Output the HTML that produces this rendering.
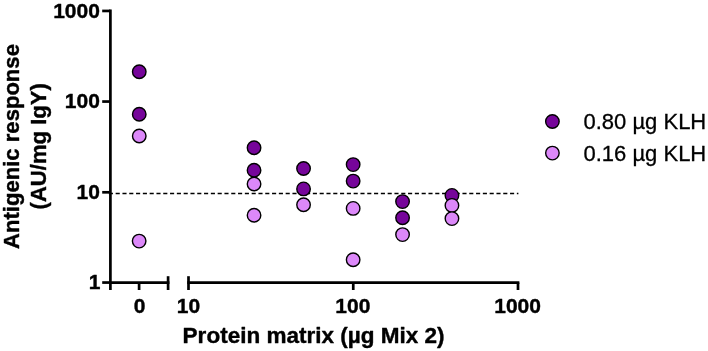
<!DOCTYPE html>
<html><head><meta charset="utf-8"><title>Chart</title>
<style>html,body{margin:0;padding:0;background:#fff}svg{display:block}</style></head>
<body>
<svg width="708" height="351" viewBox="0 0 708 351">
<rect width="708" height="351" fill="#fff"/>
<line x1="108.85" y1="193.5" x2="518.4" y2="193.5" stroke="#000" stroke-width="1.35" stroke-dasharray="4.1 2.7"/>
<g stroke="#000" stroke-width="2.7" fill="none">
<line x1="110.4" y1="9.6" x2="110.4" y2="290.1"/>
<line x1="102.2" y1="282.55" x2="110.4" y2="282.55"/>
<line x1="102.2" y1="192.30" x2="110.4" y2="192.30"/>
<line x1="102.2" y1="101.55" x2="110.4" y2="101.55"/>
<line x1="102.2" y1="10.95" x2="110.4" y2="10.95"/>
<line x1="110.4" y1="282.55" x2="169.4" y2="282.55"/>
<line x1="168.1" y1="276.2" x2="168.1" y2="290"/>
<line x1="139.1" y1="282.55" x2="139.1" y2="290"/>
<line x1="187.3" y1="282.55" x2="519.35" y2="282.55"/>
<line x1="188.5" y1="276.2" x2="188.5" y2="290"/>
<line x1="353.25" y1="282.55" x2="353.25" y2="290"/>
<line x1="518.0" y1="282.55" x2="518.0" y2="290"/>
</g>
<circle cx="139.25" cy="71.70" r="6.75" fill="#76059a" stroke="#000" stroke-width="1.4"/>
<circle cx="139.25" cy="114.30" r="6.75" fill="#76059a" stroke="#000" stroke-width="1.4"/>
<circle cx="254.05" cy="147.70" r="6.75" fill="#76059a" stroke="#000" stroke-width="1.4"/>
<circle cx="254.05" cy="170.20" r="6.75" fill="#76059a" stroke="#000" stroke-width="1.4"/>
<circle cx="303.55" cy="168.50" r="6.75" fill="#76059a" stroke="#000" stroke-width="1.4"/>
<circle cx="303.55" cy="188.90" r="6.75" fill="#76059a" stroke="#000" stroke-width="1.4"/>
<circle cx="353.15" cy="164.60" r="6.75" fill="#76059a" stroke="#000" stroke-width="1.4"/>
<circle cx="353.15" cy="181.10" r="6.75" fill="#76059a" stroke="#000" stroke-width="1.4"/>
<circle cx="402.55" cy="201.60" r="6.75" fill="#76059a" stroke="#000" stroke-width="1.4"/>
<circle cx="402.55" cy="217.70" r="6.75" fill="#76059a" stroke="#000" stroke-width="1.4"/>
<circle cx="451.95" cy="195.40" r="6.75" fill="#76059a" stroke="#000" stroke-width="1.4"/>
<circle cx="139.25" cy="136.00" r="6.75" fill="#dc88f9" stroke="#000" stroke-width="1.4"/>
<circle cx="139.15" cy="241.10" r="6.75" fill="#dc88f9" stroke="#000" stroke-width="1.4"/>
<circle cx="254.05" cy="184.00" r="6.75" fill="#dc88f9" stroke="#000" stroke-width="1.4"/>
<circle cx="254.05" cy="215.30" r="6.75" fill="#dc88f9" stroke="#000" stroke-width="1.4"/>
<circle cx="303.55" cy="204.70" r="6.75" fill="#dc88f9" stroke="#000" stroke-width="1.4"/>
<circle cx="353.15" cy="208.40" r="6.75" fill="#dc88f9" stroke="#000" stroke-width="1.4"/>
<circle cx="353.15" cy="259.80" r="6.75" fill="#dc88f9" stroke="#000" stroke-width="1.4"/>
<circle cx="402.55" cy="234.60" r="6.75" fill="#dc88f9" stroke="#000" stroke-width="1.4"/>
<circle cx="451.95" cy="205.40" r="6.75" fill="#dc88f9" stroke="#000" stroke-width="1.4"/>
<circle cx="451.95" cy="218.60" r="6.75" fill="#dc88f9" stroke="#000" stroke-width="1.4"/>
<circle cx="552.4" cy="121.5" r="6.75" fill="#76059a" stroke="#000" stroke-width="1.4"/>
<circle cx="552.4" cy="153.1" r="6.75" fill="#dc88f9" stroke="#000" stroke-width="1.4"/>
<g font-family="'Liberation Sans', Arial, sans-serif" font-size="22" fill="#000" stroke="#000" stroke-width="0.3">
<text x="583.5" y="128.9">0.80 µg KLH</text>
<text x="583.5" y="160.5">0.16 µg KLH</text>
</g>
<g font-family="'Liberation Sans', Arial, sans-serif" font-size="21" font-weight="bold" fill="#000" stroke="#000" stroke-width="0.4" stroke-linejoin="round">
<text x="100.5" y="289.40" text-anchor="end">1</text>
<text x="99.9" y="199.15" text-anchor="end">10</text>
<text x="99.9" y="108.40" text-anchor="end">100</text>
<text x="99.9" y="17.80" text-anchor="end">1000</text>
<text x="139.6" y="313.2" text-anchor="middle">0</text>
<text x="188.5" y="313.2" text-anchor="middle">10</text>
<text x="352.85" y="313.2" text-anchor="middle">100</text>
<text x="517.6" y="313.2" text-anchor="middle">1000</text>
<text x="182.6" y="343.1" font-size="22.2" textLength="262" lengthAdjust="spacingAndGlyphs">Protein matrix (µg Mix 2)</text>
<text transform="translate(18.8 146.5) rotate(-90) scale(1.004 1.03)" text-anchor="middle" font-size="22">Antigenic response</text>
<text transform="translate(45.8 146.3) rotate(-90) scale(1.004 1.03)" text-anchor="middle" font-size="22">(AU/mg IgY)</text>
</g>
</svg>
</body></html>
